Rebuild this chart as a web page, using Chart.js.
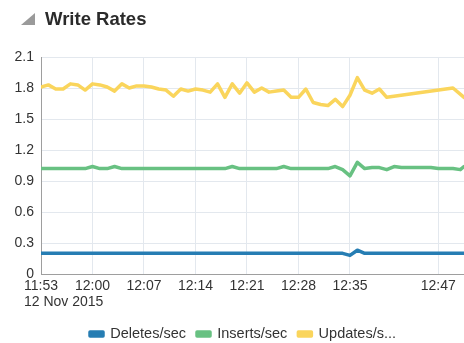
<!DOCTYPE html>
<html>
<head>
<meta charset="utf-8">
<script src="https://cdn.jsdelivr.net/npm/chart.js@4/dist/chart.umd.min.js"></script>
<style>
  html, body { margin: 0; padding: 0; background: #fff; overflow: hidden; }
  #wrap { position: absolute; left: 0; top: 0; width: 464px; height: 343px; }
  #head { position: absolute; left: 0; top: 0; width: 464px; height: 40px; pointer-events: none; }
  #head .tri { position: absolute; left: 21px; top: 13px; width: 0; height: 0;
    border-style: solid; border-width: 0 0 12px 14px; border-color: transparent transparent #9a9a9a transparent; }
  #head .title { position: absolute; left: 45px; top: 8px; font: bold 18.5px "Liberation Sans", Arial, sans-serif; color: #2b2b2b; }
</style>
</head>
<body>
<div id="wrap"><canvas id="c"></canvas></div>
<div id="head"><div class="tri"></div><div class="title">Write Rates</div></div>
<script>
// Sample times, in minutes after 11:53 on 12 Nov 2015
const minutes = [];
for (let m = 0; m <= 57; m++) minutes.push(m);
minutes.push(57.5);

const seriesNames = ['Deletes/sec', 'Inserts/sec', 'Updates/s...'];
const seriesColors = ['#267db3', '#68c182', '#fad55c'];

const deletes = [
  0.20, 0.20, 0.20, 0.20, 0.20, 0.20, 0.20, 0.20, 0.20, 0.20,
  0.20, 0.20, 0.20, 0.20, 0.20, 0.20, 0.20, 0.20, 0.20, 0.20,
  0.20, 0.20, 0.20, 0.20, 0.20, 0.20, 0.20, 0.20, 0.20, 0.20,
  0.20, 0.20, 0.20, 0.20, 0.20, 0.20, 0.20, 0.20, 0.20, 0.20,
  0.20, 0.20, 0.18, 0.23, 0.20, 0.20, 0.20, 0.20, 0.20, 0.20,
  0.20, 0.20, 0.20, 0.20, 0.20, 0.20, 0.20, 0.20, 0.20
];

const inserts = [
  1.02, 1.02, 1.02, 1.02, 1.02, 1.02, 1.02, 1.04, 1.02, 1.02,
  1.04, 1.02, 1.02, 1.02, 1.02, 1.02, 1.02, 1.02, 1.02, 1.02,
  1.02, 1.02, 1.02, 1.02, 1.02, 1.02, 1.04, 1.02, 1.02, 1.02,
  1.02, 1.02, 1.02, 1.04, 1.02, 1.02, 1.02, 1.02, 1.02, 1.02,
  1.04, 1.01, 0.95, 1.08, 1.02, 1.03, 1.03, 1.01, 1.04, 1.03,
  1.03, 1.03, 1.03, 1.03, 1.02, 1.02, 1.02, 1.01, 1.04
];

// Updates have no samples between 12:41 and 12:48
const updates = [
  1.81, 1.83, 1.79, 1.79, 1.84, 1.83, 1.78, 1.84, 1.83, 1.81,
  1.77, 1.84, 1.80, 1.82, 1.82, 1.81, 1.79, 1.78, 1.72, 1.79,
  1.77, 1.79, 1.78, 1.76, 1.84, 1.71, 1.84, 1.75, 1.85, 1.76,
  1.80, 1.76, 1.77, 1.78, 1.71, 1.71, 1.79, 1.66, 1.64, 1.63,
  1.69, 1.62, 1.73, 1.90, 1.78, 1.75, 1.79, 1.71, null, null,
  null, null, null, null, null, null, 1.80, null, 1.71
];

const xTickMinutes = [0, 7, 14, 21, 28, 35, 42, 54];
const xTickLabels = ['11:53', '12:00', '12:07', '12:14', '12:21', '12:28', '12:35', '12:47'];
const dateLabel = '12 Nov 2015';
const yTicks = [0, 0.3, 0.6, 0.9, 1.2, 1.5, 1.8, 2.1];
const yTickLabels = ['0', '0.3', '0.6', '0.9', '1.2', '1.5', '1.8', '2.1'];

const FONT = '"Liberation Sans", Arial, sans-serif';
Chart.defaults.font.family = FONT;
Chart.defaults.font.size = 14;
Chart.defaults.color = '#333';

const values = [deletes, inserts, updates];
const datasets = values.map((vals, i) => ({
  label: seriesNames[i],
  data: minutes.map((m, k) => ({ x: m, y: vals[k] })),
  borderColor: seriesColors[i],
  backgroundColor: seriesColors[i],
  borderWidth: 3.5,
  pointRadius: 0,
  pointHoverRadius: 0,
  tension: 0,
  spanGaps: true,
  borderJoinStyle: 'round',
  borderCapStyle: 'round'
}));

// Date line under the first time label, left-aligned with it
const dateLine = {
  id: 'dateLine',
  afterDraw(chart) {
    const x = chart.scales.x;
    const ctx = chart.ctx;
    ctx.save();
    ctx.font = '14px ' + FONT;
    ctx.fillStyle = '#333';
    ctx.textAlign = 'left';
    ctx.textBaseline = 'top';
    const w = ctx.measureText(xTickLabels[0]).width;
    ctx.fillText(dateLabel, x.getPixelForValue(xTickMinutes[0]) - w / 2, x.top + 4 + 17);
    ctx.restore();
  }
};

// Nudge the legend row to the right
const legendShift = {
  id: 'legendShift',
  afterLayout(chart) {
    if (chart.legend) { chart.legend.left += 11; chart.legend.right += 11; }
  }
};

new Chart(document.getElementById('c'), {
  type: 'line',
  data: { datasets },
  plugins: [dateLine, legendShift],
  options: {
    responsive: true,
    maintainAspectRatio: false,
    animation: false,
    events: [],
    layout: { padding: { top: 57, left: 0, right: 0, bottom: -8.25 } },
    plugins: {
      tooltip: { enabled: false },
      legend: {
        position: 'bottom',
        labels: {
          boxWidth: 13,
          boxHeight: 4,
          padding: 11,
          color: '#333',
          font: { size: 14.5, family: FONT }
        }
      }
    },
    scales: {
      x: {
        type: 'linear',
        min: 0,
        max: 57.5,
        afterBuildTicks(scale) { scale.ticks = xTickMinutes.map(v => ({ value: v })); },
        afterFit(scale) { scale.height = 41.75; },
        ticks: {
          autoSkip: false,
          maxRotation: 0,
          padding: 4,
          color: '#333',
          callback(value) { return xTickLabels[xTickMinutes.indexOf(value)]; }
        },
        grid: { color: '#e3e8ee', lineWidth: 1, drawTicks: false },
        border: { color: '#9e9e9e', width: 1 }
      },
      y: {
        min: 0,
        max: 2.1,
        afterBuildTicks(scale) { scale.ticks = yTicks.map(v => ({ value: v })); },
        afterFit(scale) { scale.width = 41; },
        ticks: {
          padding: 7,
          color: '#333',
          callback(value) { return yTickLabels[yTicks.indexOf(value)]; }
        },
        grid: { color: '#e3e8ee', lineWidth: 1, drawTicks: false },
        border: { color: '#9e9e9e', width: 1 }
      }
    }
  }
});
</script>
</body>
</html>
